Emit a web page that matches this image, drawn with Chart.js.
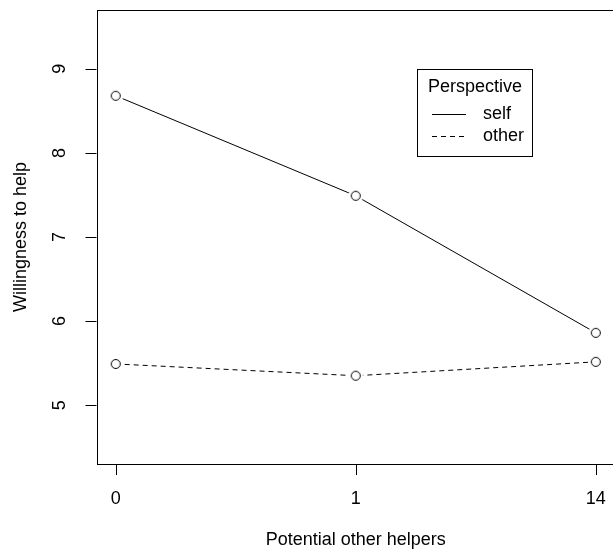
<!DOCTYPE html>
<html>
<head>
<meta charset="utf-8">
<script src="https://cdn.jsdelivr.net/npm/chart.js@4/dist/chart.umd.min.js"></script>
<style>
  html, body { margin: 0; padding: 0; background: #fff; overflow: hidden; }
  canvas { display: block; }
</style>
</head>
<body>
<canvas id="chart" width="620" height="551"></canvas>
<script>
// positions 1..3 are categories on the x axis
const categories = ['0', '1', '14'];
const xPos = [1, 2, 3];
const selfValues = [8.68, 7.49, 5.86];
const otherValues = [5.49, 5.35, 5.515];
const yTicks = [5, 6, 7, 8, 9];
const seriesNames = ['self', 'other'];

const FONT = "'Liberation Sans', Arial, Helvetica, sans-serif";
const DASH = [5, 4];

// open circle with white halo, like R's type = "b"
function makePoint() {
  const c = document.createElement('canvas');
  c.width = 18; c.height = 18;
  const g = c.getContext('2d');
  g.fillStyle = '#fff';
  g.beginPath(); g.arc(9, 9, 7.5, 0, Math.PI * 2); g.fill();
  g.strokeStyle = '#000'; g.lineWidth = 1;
  g.beginPath(); g.arc(9, 9, 4.5, 0, Math.PI * 2); g.stroke();
  return c;
}
const pointImg = makePoint();

const rAxes = {
  id: 'rAxes',
  afterDraw(chart) {
    const { ctx, chartArea: a, scales: { x, y } } = chart;
    ctx.save();
    ctx.strokeStyle = '#000';
    ctx.fillStyle = '#000';
    ctx.lineWidth = 1;
    ctx.strokeRect(Math.round(a.left) + 0.5, Math.round(a.top) + 0.5, a.right - a.left, Math.round(a.bottom - a.top));

    ctx.font = '18px ' + FONT;
    ctx.textAlign = 'center';
    ctx.textBaseline = 'alphabetic';

    // x ticks + labels
    ctx.beginPath();
    xPos.forEach(v => {
      const px = Math.round(x.getPixelForValue(v)) + 0.5;
      ctx.moveTo(px, a.bottom);
      ctx.lineTo(px, a.bottom + 11);
    });
    ctx.stroke();
    xPos.forEach((v, i) => ctx.fillText(categories[i], x.getPixelForValue(v), 504));
    ctx.fillText('Potential other helpers', (a.left + a.right) / 2, 545);

    // y ticks + rotated labels
    ctx.beginPath();
    yTicks.forEach(v => {
      const py = Math.round(y.getPixelForValue(v)) + 0.5;
      ctx.moveTo(a.left - 11, py);
      ctx.lineTo(a.left, py);
    });
    ctx.stroke();
    yTicks.forEach(v => {
      ctx.save();
      ctx.translate(65, y.getPixelForValue(v));
      ctx.rotate(-Math.PI / 2);
      ctx.fillText(String(v), 0, 0);
      ctx.restore();
    });
    ctx.save();
    ctx.translate(26, (a.top + a.bottom) / 2);
    ctx.rotate(-Math.PI / 2);
    ctx.fillText('Willingness to help', 0, 0);
    ctx.restore();

    // legend
    const L = { left: 417, top: 69, right: 532, bottom: 156 };
    ctx.strokeRect(L.left + 0.5, L.top + 0.5, L.right - L.left, L.bottom - L.top);
    ctx.fillText('Perspective', 475, 92);
    ctx.textAlign = 'left';
    const lineY = [114, 136];
    const textY = [119, 141];
    seriesNames.forEach((name, i) => {
      ctx.setLineDash(i === 0 ? [] : DASH);
      ctx.beginPath();
      ctx.moveTo(432, lineY[i] + 0.5);
      ctx.lineTo(466, lineY[i] + 0.5);
      ctx.stroke();
      ctx.fillText(name, 483, textY[i]);
    });
    ctx.restore();
  }
};

function toPoints(vals) {
  return xPos.map((v, i) => ({ x: v, y: vals[i] }));
}

new Chart(document.getElementById('chart'), {
  type: 'line',
  data: {
    datasets: [
      {
        label: seriesNames[0],
        data: toPoints(selfValues),
        borderColor: '#000',
        borderWidth: 1,
        pointStyle: pointImg,
        tension: 0
      },
      {
        label: seriesNames[1],
        data: toPoints(otherValues),
        borderColor: '#000',
        borderWidth: 1,
        borderDash: DASH,
        pointStyle: pointImg,
        tension: 0
      }
    ]
  },
  options: {
    responsive: false,
    animation: false,
    devicePixelRatio: 1,
    layout: { padding: { left: 96.5, right: 3.5, top: 10, bottom: 87 } },
    plugins: { legend: { display: false }, tooltip: { enabled: false } },
    scales: {
      x: {
        type: 'linear', min: 0.92, max: 3.08,
        grid: { display: false }, border: { display: false },
        ticks: { display: false },
        afterFit: s => { s.height = 0; }
      },
      y: {
        type: 'linear', min: 4.3, max: 9.7,
        grid: { display: false }, border: { display: false },
        ticks: { display: false },
        afterFit: s => { s.width = 0; }
      }
    }
  },
  plugins: [rAxes]
});
</script>
</body>
</html>
